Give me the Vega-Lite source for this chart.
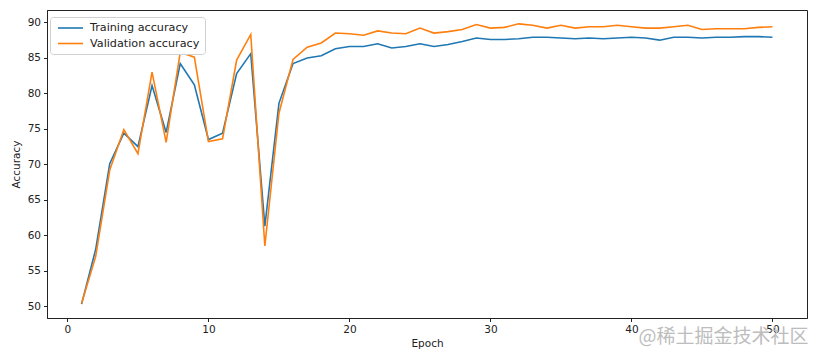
{
  "$schema": "https://vega.github.io/schema/vega-lite/v6.json",
  "autosize": {"type": "none"},
  "width": 760,
  "height": 308,
  "padding": {"left": 47, "top": 10, "right": 10, "bottom": 42},
  "background": "white",
  "config": {
    "view": {"stroke": "#222", "strokeWidth": 1},
    "axis": {
      "grid": false,
      "domainColor": "#222",
      "tickColor": "#222",
      "labelColor": "#222",
      "titleColor": "#222",
      "labelFont": "DejaVu Sans",
      "titleFont": "DejaVu Sans",
      "labelFontSize": 10.5,
      "titleFontSize": 10.5,
      "titleFontWeight": "normal",
      "tickSize": 3.5,
      "labelPadding": 3,
      "labelOverlap": false
    },
    "legend": {
      "labelFont": "DejaVu Sans",
      "labelFontSize": 11.2,
      "labelColor": "#222"
    }
  },
  "data": {
    "values": [
      {"epoch": 1, "Training accuracy": 50.3, "Validation accuracy": 50.4},
      {"epoch": 2, "Training accuracy": 58.0, "Validation accuracy": 57.0},
      {"epoch": 3, "Training accuracy": 70.1, "Validation accuracy": 69.2},
      {"epoch": 4, "Training accuracy": 74.4, "Validation accuracy": 74.9},
      {"epoch": 5, "Training accuracy": 72.5, "Validation accuracy": 71.5},
      {"epoch": 6, "Training accuracy": 81.1, "Validation accuracy": 83.0},
      {"epoch": 7, "Training accuracy": 74.5, "Validation accuracy": 73.1},
      {"epoch": 8, "Training accuracy": 84.2, "Validation accuracy": 85.8},
      {"epoch": 9, "Training accuracy": 81.2, "Validation accuracy": 85.1},
      {"epoch": 10, "Training accuracy": 73.5, "Validation accuracy": 73.2},
      {"epoch": 11, "Training accuracy": 74.4, "Validation accuracy": 73.6},
      {"epoch": 12, "Training accuracy": 82.8, "Validation accuracy": 84.7},
      {"epoch": 13, "Training accuracy": 85.6, "Validation accuracy": 88.3},
      {"epoch": 14, "Training accuracy": 61.3, "Validation accuracy": 58.5},
      {"epoch": 15, "Training accuracy": 78.6, "Validation accuracy": 77.2},
      {"epoch": 16, "Training accuracy": 84.2, "Validation accuracy": 84.8},
      {"epoch": 17, "Training accuracy": 85.0, "Validation accuracy": 86.5},
      {"epoch": 18, "Training accuracy": 85.3, "Validation accuracy": 87.1},
      {"epoch": 19, "Training accuracy": 86.3, "Validation accuracy": 88.5},
      {"epoch": 20, "Training accuracy": 86.6, "Validation accuracy": 88.4},
      {"epoch": 21, "Training accuracy": 86.6, "Validation accuracy": 88.2},
      {"epoch": 22, "Training accuracy": 87.0, "Validation accuracy": 88.8},
      {"epoch": 23, "Training accuracy": 86.4, "Validation accuracy": 88.5},
      {"epoch": 24, "Training accuracy": 86.6, "Validation accuracy": 88.4},
      {"epoch": 25, "Training accuracy": 87.0, "Validation accuracy": 89.2},
      {"epoch": 26, "Training accuracy": 86.6, "Validation accuracy": 88.5},
      {"epoch": 27, "Training accuracy": 86.9, "Validation accuracy": 88.7},
      {"epoch": 28, "Training accuracy": 87.3, "Validation accuracy": 89.0},
      {"epoch": 29, "Training accuracy": 87.8, "Validation accuracy": 89.7},
      {"epoch": 30, "Training accuracy": 87.6, "Validation accuracy": 89.2},
      {"epoch": 31, "Training accuracy": 87.6, "Validation accuracy": 89.3},
      {"epoch": 32, "Training accuracy": 87.7, "Validation accuracy": 89.8},
      {"epoch": 33, "Training accuracy": 87.9, "Validation accuracy": 89.6},
      {"epoch": 34, "Training accuracy": 87.9, "Validation accuracy": 89.2},
      {"epoch": 35, "Training accuracy": 87.8, "Validation accuracy": 89.6},
      {"epoch": 36, "Training accuracy": 87.7, "Validation accuracy": 89.2},
      {"epoch": 37, "Training accuracy": 87.8, "Validation accuracy": 89.4},
      {"epoch": 38, "Training accuracy": 87.7, "Validation accuracy": 89.4},
      {"epoch": 39, "Training accuracy": 87.8, "Validation accuracy": 89.6},
      {"epoch": 40, "Training accuracy": 87.9, "Validation accuracy": 89.4},
      {"epoch": 41, "Training accuracy": 87.8, "Validation accuracy": 89.2},
      {"epoch": 42, "Training accuracy": 87.5, "Validation accuracy": 89.2},
      {"epoch": 43, "Training accuracy": 87.9, "Validation accuracy": 89.4},
      {"epoch": 44, "Training accuracy": 87.9, "Validation accuracy": 89.6},
      {"epoch": 45, "Training accuracy": 87.8, "Validation accuracy": 89.0},
      {"epoch": 46, "Training accuracy": 87.9, "Validation accuracy": 89.1},
      {"epoch": 47, "Training accuracy": 87.9, "Validation accuracy": 89.1},
      {"epoch": 48, "Training accuracy": 88.0, "Validation accuracy": 89.1},
      {"epoch": 49, "Training accuracy": 88.0, "Validation accuracy": 89.3},
      {"epoch": 50, "Training accuracy": 87.9, "Validation accuracy": 89.4}
    ]
  },
  "layer": [
    {
      "transform": [
        {"fold": ["Training accuracy", "Validation accuracy"], "as": ["series", "accuracy"]}
      ],
      "mark": {"type": "line", "strokeWidth": 1.6},
      "encoding": {
        "x": {
          "field": "epoch", "type": "quantitative", "title": "Epoch",
          "scale": {"domain": [-1.45, 52.45], "nice": false, "zero": false},
          "axis": {"values": [0, 10, 20, 30, 40, 50], "titlePadding": 3}
        },
        "y": {
          "field": "accuracy", "type": "quantitative", "title": "Accuracy",
          "scale": {"domain": [48.35, 91.75], "nice": false, "zero": false},
          "axis": {"values": [50, 55, 60, 65, 70, 75, 80, 85, 90], "titlePadding": 6}
        },
        "color": {
          "field": "series", "type": "nominal",
          "scale": {"domain": ["Training accuracy", "Validation accuracy"], "range": ["#1f77b4", "#ff7f0e"]},
          "legend": {
            "title": null,
            "orient": "none",
            "legendX": 3,
            "legendY": 7,
            "symbolType": "M-0.6,0H4.4",
            "symbolSize": 100,
            "symbolStrokeWidth": 1.6,
            "symbolFillColor": "transparent",
            "labelOffset": 23,
            "rowPadding": 3.5,
            "padding": 5,
            "strokeColor": "#d0d0d0",
            "fillColor": "white",
            "cornerRadius": 3
          }
        }
      }
    },
    {
      "data": {"values": [{"x": 52.55, "y": 45.73, "t": "@稀土掘金技术社区"}]},
      "mark": {"type": "text", "align": "right", "baseline": "middle", "font": "Noto Sans CJK SC", "fontSize": 19, "color": "#bdbdbd"},
      "encoding": {
        "x": {
          "field": "x", "type": "quantitative", "title": "Epoch",
          "scale": {"domain": [-1.45, 52.45], "nice": false, "zero": false},
          "axis": {"values": [0, 10, 20, 30, 40, 50], "titlePadding": 3}
        },
        "y": {
          "field": "y", "type": "quantitative", "title": "Accuracy",
          "scale": {"domain": [48.35, 91.75], "nice": false, "zero": false},
          "axis": {"values": [50, 55, 60, 65, 70, 75, 80, 85, 90], "titlePadding": 6}
        },
        "text": {"field": "t"}
      }
    }
  ]
}
